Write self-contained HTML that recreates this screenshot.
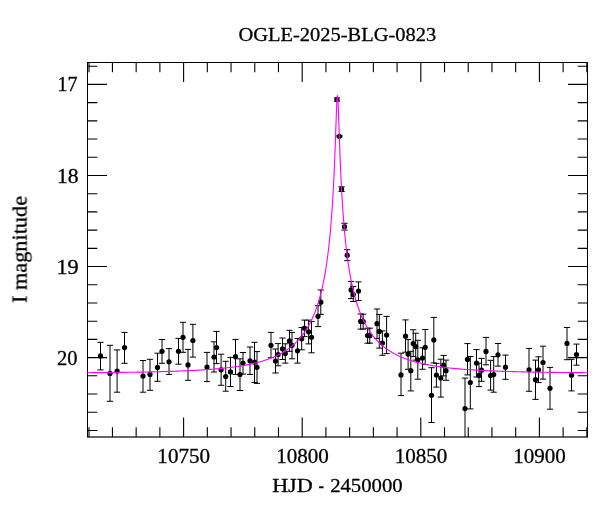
<!DOCTYPE html>
<html><head><meta charset="utf-8"><style>
html,body{margin:0;padding:0;background:#fff;}
svg{display:block;}
text{font-family:"Liberation Serif", serif;fill:#000;}
</style></head><body>
<svg width="600" height="512" viewBox="0 0 600 512">
<rect width="600" height="512" fill="#fff"/>
<g opacity="0.999" stroke="#000" stroke-width="0.3"><text x="238.50" y="40.50" font-size="19.76" textLength="197.67" lengthAdjust="spacingAndGlyphs">OGLE-2025-BLG-0823</text><text x="57.50" y="91.30" font-size="20.00" textLength="19.98" lengthAdjust="spacingAndGlyphs">17</text><text x="57.00" y="183.17" font-size="20.00" textLength="21.64" lengthAdjust="spacingAndGlyphs">18</text><text x="56.50" y="274.24" font-size="20.00" textLength="22.23" lengthAdjust="spacingAndGlyphs">19</text><text x="57.00" y="364.51" font-size="20.00" textLength="20.50" lengthAdjust="spacingAndGlyphs">20</text><text x="157.35" y="463.00" font-size="20.20" textLength="52.70" lengthAdjust="spacingAndGlyphs">10750</text><text x="276.15" y="463.00" font-size="20.20" textLength="52.70" lengthAdjust="spacingAndGlyphs">10800</text><text x="394.70" y="463.00" font-size="20.20" textLength="52.70" lengthAdjust="spacingAndGlyphs">10850</text><text x="513.20" y="463.00" font-size="20.20" textLength="52.70" lengthAdjust="spacingAndGlyphs">10900</text><text transform="translate(26.60,303.00) rotate(-90)" font-size="20.04" textLength="107.03" lengthAdjust="spacingAndGlyphs">I magnitude</text><text x="272.15" y="491.60" font-size="19.52" textLength="40.55" lengthAdjust="spacingAndGlyphs">HJD</text><text x="318.50" y="491.60" font-size="20.20" textLength="5.42" lengthAdjust="spacingAndGlyphs">-</text><text x="330.15" y="491.60" font-size="19.52" textLength="72.51" lengthAdjust="spacingAndGlyphs">2450000</text></g>
<defs><clipPath id="c"><rect x="87.5" y="62.5" width="500.0" height="374.5"/></clipPath><clipPath id="c2"><rect x="87.0" y="62.5" width="501.0" height="374.5"/></clipPath></defs>
<path d="M89.00 437.00V427.20M89.00 62.50V72.30M112.44 437.00V427.20M112.44 62.50V72.30M136.16 437.00V427.20M136.16 62.50V72.30M159.88 437.00V427.20M159.88 62.50V72.30M183.60 437.00V417.50M183.60 62.50V82.00M207.32 437.00V427.20M207.32 62.50V72.30M231.04 437.00V427.20M231.04 62.50V72.30M254.76 437.00V427.20M254.76 62.50V72.30M278.48 437.00V427.20M278.48 62.50V72.30M302.20 437.00V417.50M302.20 62.50V82.00M325.92 437.00V427.20M325.92 62.50V72.30M349.64 437.00V427.20M349.64 62.50V72.30M373.36 437.00V427.20M373.36 62.50V72.30M397.08 437.00V427.20M397.08 62.50V72.30M420.80 437.00V417.50M420.80 62.50V82.00M444.52 437.00V427.20M444.52 62.50V72.30M468.24 437.00V427.20M468.24 62.50V72.30M491.96 437.00V427.20M491.96 62.50V72.30M515.68 437.00V427.20M515.68 62.50V72.30M539.40 437.00V417.50M539.40 62.50V82.00M563.12 437.00V427.20M563.12 62.50V72.30M586.84 437.00V427.20M586.84 62.50V72.30M87.50 66.19H97.30M587.50 66.19H577.70M87.50 84.40H107.00M587.50 84.40H568.00M87.50 102.61H97.30M587.50 102.61H577.70M87.50 120.83H97.30M587.50 120.83H577.70M87.50 139.04H97.30M587.50 139.04H577.70M87.50 157.26H97.30M587.50 157.26H577.70M87.50 175.47H107.00M587.50 175.47H568.00M87.50 193.68H97.30M587.50 193.68H577.70M87.50 211.90H97.30M587.50 211.90H577.70M87.50 230.11H97.30M587.50 230.11H577.70M87.50 248.33H97.30M587.50 248.33H577.70M87.50 266.54H107.00M587.50 266.54H568.00M87.50 284.75H97.30M587.50 284.75H577.70M87.50 302.97H97.30M587.50 302.97H577.70M87.50 321.18H97.30M587.50 321.18H577.70M87.50 339.40H97.30M587.50 339.40H577.70M87.50 357.61H107.00M587.50 357.61H568.00M87.50 375.82H97.30M587.50 375.82H577.70M87.50 394.04H97.30M587.50 394.04H577.70M87.50 412.25H97.30M587.50 412.25H577.70M87.50 430.47H97.30M587.50 430.47H577.70" stroke="#000" stroke-width="1.1" fill="none"/>
<path d="M87.5 62.5H587.5M87.5 62.0V437.0M587.5 62.0V437.0" stroke="#000" stroke-width="1" fill="none"/>
<path d="M87.0 437.0H588.0" stroke="#000" stroke-width="1.5" stroke-opacity="0.8" fill="none"/>
<g clip-path="url(#c)">
<g stroke="#000" stroke-width="1.0" fill="none">
<path d="M100.50 342.30V369.90M97.40 342.30H103.60M97.40 369.90H103.60"/>
<path d="M110.00 345.30V401.30M106.90 345.30H113.10M106.90 401.30H113.10"/>
<path d="M117.10 349.90V392.20M114.00 349.90H120.20M114.00 392.20H120.20"/>
<path d="M124.50 332.40V363.30M121.40 332.40H127.60M121.40 363.30H127.60"/>
<path d="M143.00 360.50V392.20M139.90 360.50H146.10M139.90 392.20H146.10"/>
<path d="M150.00 359.30V390.30M146.90 359.30H153.10M146.90 390.30H153.10"/>
<path d="M157.50 353.20V381.30M154.40 353.20H160.60M154.40 381.30H160.60"/>
<path d="M162.00 339.50V363.30M158.90 339.50H165.10M158.90 363.30H165.10"/>
<path d="M169.00 348.60V374.40M165.90 348.60H172.10M165.90 374.40H172.10"/>
<path d="M178.50 338.40V364.20M175.40 338.40H181.60M175.40 364.20H181.60"/>
<path d="M183.00 322.30V352.30M179.90 322.30H186.10M179.90 352.30H186.10"/>
<path d="M188.00 349.40V380.30M184.90 349.40H191.10M184.90 380.30H191.10"/>
<path d="M192.90 324.30V357.10M189.80 324.30H196.00M189.80 357.10H196.00"/>
<path d="M207.00 352.40V381.60M203.90 352.40H210.10M203.90 381.60H210.10"/>
<path d="M214.00 341.80V372.00M210.90 341.80H217.10M210.90 372.00H217.10"/>
<path d="M216.50 331.40V363.60M213.40 331.40H219.60M213.40 363.60H219.60"/>
<path d="M221.10 354.20V385.30M218.00 354.20H224.20M218.00 385.30H224.20"/>
<path d="M225.70 361.30V391.20M222.60 361.30H228.80M222.60 391.20H228.80"/>
<path d="M230.50 357.40V386.50M227.40 357.40H233.60M227.40 386.50H233.60"/>
<path d="M235.50 339.40V374.40M232.40 339.40H238.60M232.40 374.40H238.60"/>
<path d="M240.00 358.80V390.50M236.90 358.80H243.10M236.90 390.50H243.10"/>
<path d="M243.00 352.50V374.10M239.90 352.50H246.10M239.90 374.10H246.10"/>
<path d="M250.00 347.00V374.40M246.90 347.00H253.10M246.90 374.40H253.10"/>
<path d="M254.50 342.30V382.50M251.40 342.30H257.60M251.40 382.50H257.60"/>
<path d="M257.00 351.60V383.40M253.90 351.60H260.10M253.90 383.40H260.10"/>
<path d="M271.00 332.40V357.70M267.90 332.40H274.10M267.90 357.70H274.10"/>
<path d="M275.50 349.00V373.00M272.40 349.00H278.60M272.40 373.00H278.60"/>
<path d="M278.10 343.60V365.80M275.00 343.60H281.20M275.00 365.80H281.20"/>
<path d="M282.50 338.00V359.50M279.40 338.00H285.60M279.40 359.50H285.60"/>
<path d="M285.30 343.80V363.10M282.20 343.80H288.40M282.20 363.10H288.40"/>
<path d="M289.50 330.30V351.30M286.40 330.30H292.60M286.40 351.30H292.60"/>
<path d="M292.00 332.40V358.80M288.90 332.40H295.10M288.90 358.80H295.10"/>
<path d="M297.50 338.40V363.10M294.40 338.40H300.60M294.40 363.10H300.60"/>
<path d="M301.70 327.50V349.80M298.60 327.50H304.80M298.60 349.80H304.80"/>
<path d="M304.50 320.10V336.60M301.40 320.10H307.60M301.40 336.60H307.60"/>
<path d="M308.60 320.10V343.90M305.50 320.10H311.70M305.50 343.90H311.70"/>
<path d="M311.50 321.50V352.80M308.40 321.50H314.60M308.40 352.80H314.60"/>
<path d="M318.00 305.70V326.60M314.90 305.70H321.10M314.90 326.60H321.10"/>
<path d="M320.80 290.00V314.40M317.70 290.00H323.90M317.70 314.40H323.90"/>
<path d="M337.00 97.90V101.20M333.90 97.90H340.10M333.90 101.20H340.10"/>
<path d="M339.40 135.60V137.00M336.30 135.60H342.50M336.30 137.00H342.50"/>
<path d="M341.60 186.80V191.50M338.50 186.80H344.70M338.50 191.50H344.70"/>
<path d="M344.50 223.30V230.10M341.40 223.30H347.60M341.40 230.10H347.60"/>
<path d="M347.20 249.70V260.70M344.10 249.70H350.30M344.10 260.70H350.30"/>
<path d="M351.10 281.40V298.60M348.00 281.40H354.20M348.00 298.60H354.20"/>
<path d="M353.30 286.50V301.50M350.20 286.50H356.40M350.20 301.50H356.40"/>
<path d="M358.50 281.90V300.50M355.40 281.90H361.60M355.40 300.50H361.60"/>
<path d="M360.70 314.00V329.10M357.60 314.00H363.80M357.60 329.10H363.80"/>
<path d="M363.20 314.20V329.10M360.10 314.20H366.30M360.10 329.10H366.30"/>
<path d="M367.60 328.20V343.20M364.50 328.20H370.70M364.50 343.20H370.70"/>
<path d="M369.80 328.20V343.20M366.70 328.20H372.90M366.70 343.20H372.90"/>
<path d="M377.00 309.00V338.50M373.90 309.00H380.10M373.90 338.50H380.10"/>
<path d="M379.30 314.40V348.10M376.20 314.40H382.40M376.20 348.10H382.40"/>
<path d="M382.40 330.90V355.30M379.30 330.90H385.50M379.30 355.30H385.50"/>
<path d="M386.60 316.40V353.60M383.50 316.40H389.70M383.50 353.60H389.70"/>
<path d="M401.00 353.20V395.60M397.90 353.20H404.10M397.90 395.60H404.10"/>
<path d="M405.50 319.90V352.20M402.40 319.90H408.60M402.40 352.20H408.60"/>
<path d="M408.10 339.40V369.30M405.00 339.40H411.20M405.00 369.30H411.20"/>
<path d="M410.80 351.30V390.90M407.70 351.30H413.90M407.70 390.90H413.90"/>
<path d="M413.20 329.80V356.60M410.10 329.80H416.30M410.10 356.60H416.30"/>
<path d="M415.70 333.20V360.10M412.60 333.20H418.80M412.60 360.10H418.80"/>
<path d="M417.80 340.30V379.20M414.70 340.30H420.90M414.70 379.20H420.90"/>
<path d="M422.50 347.80V369.30M419.40 347.80H425.60M419.40 369.30H425.60"/>
<path d="M425.20 329.50V364.50M422.10 329.50H428.30M422.10 364.50H428.30"/>
<path d="M431.50 367.70V422.50M428.40 367.70H434.60M428.40 422.50H434.60"/>
<path d="M433.80 317.40V362.90M430.70 317.40H436.90M430.70 362.90H436.90"/>
<path d="M436.40 363.40V387.10M433.30 363.40H439.50M433.30 387.10H439.50"/>
<path d="M440.80 359.20V397.10M437.70 359.20H443.90M437.70 397.10H443.90"/>
<path d="M443.60 355.40V375.90M440.50 355.40H446.70M440.50 375.90H446.70"/>
<path d="M446.00 360.10V380.30M442.90 360.10H449.10M442.90 380.30H449.10"/>
<path d="M465.00 378.10V445.00M461.90 378.10H468.10M461.90 445.00H468.10"/>
<path d="M467.50 343.60V374.90M464.40 343.60H470.60M464.40 374.90H470.60"/>
<path d="M470.30 356.50V408.90M467.20 356.50H473.40M467.20 408.90H473.40"/>
<path d="M476.50 349.60V377.00M473.40 349.60H479.60M473.40 377.00H479.60"/>
<path d="M479.00 363.20V386.60M475.90 363.20H482.10M475.90 386.60H482.10"/>
<path d="M481.50 358.40V381.30M478.40 358.40H484.60M478.40 381.30H484.60"/>
<path d="M486.00 337.40V364.80M482.90 337.40H489.10M482.90 364.80H489.10"/>
<path d="M490.60 360.30V390.10M487.50 360.30H493.70M487.50 390.10H493.70"/>
<path d="M493.70 356.60V392.20M490.60 356.60H496.80M490.60 392.20H496.80"/>
<path d="M498.00 343.50V366.10M494.90 343.50H501.10M494.90 366.10H501.10"/>
<path d="M505.50 355.10V379.30M502.40 355.10H508.60M502.40 379.30H508.60"/>
<path d="M529.00 348.40V391.30M525.90 348.40H532.10M525.90 391.30H532.10"/>
<path d="M535.50 360.10V399.40M532.40 360.10H538.60M532.40 399.40H538.60"/>
<path d="M538.50 356.80V382.60M535.40 356.80H541.60M535.40 382.60H541.60"/>
<path d="M543.00 346.20V379.10M539.90 346.20H546.10M539.90 379.10H546.10"/>
<path d="M550.00 367.40V409.20M546.90 367.40H553.10M546.90 409.20H553.10"/>
<path d="M567.00 327.50V359.70M563.90 327.50H570.10M563.90 359.70H570.10"/>
<path d="M571.50 359.30V390.90M568.40 359.30H574.60M568.40 390.90H574.60"/>
<path d="M576.50 344.10V365.20M573.40 344.10H579.60M573.40 365.20H579.60"/>
</g>
<g fill="#000">
<circle cx="100.50" cy="355.90" r="2.6"/>
<circle cx="110.00" cy="373.40" r="2.6"/>
<circle cx="117.10" cy="371.00" r="2.6"/>
<circle cx="124.50" cy="347.60" r="2.6"/>
<circle cx="143.00" cy="376.10" r="2.6"/>
<circle cx="150.00" cy="374.40" r="2.6"/>
<circle cx="157.50" cy="367.40" r="2.6"/>
<circle cx="162.00" cy="351.30" r="2.6"/>
<circle cx="169.00" cy="361.80" r="2.6"/>
<circle cx="178.50" cy="351.30" r="2.6"/>
<circle cx="183.00" cy="337.30" r="2.6"/>
<circle cx="188.00" cy="364.90" r="2.6"/>
<circle cx="192.90" cy="340.50" r="2.6"/>
<circle cx="207.00" cy="367.00" r="2.6"/>
<circle cx="214.00" cy="357.00" r="2.6"/>
<circle cx="216.50" cy="347.50" r="2.6"/>
<circle cx="221.10" cy="369.80" r="2.6"/>
<circle cx="225.70" cy="376.60" r="2.6"/>
<circle cx="230.50" cy="371.90" r="2.6"/>
<circle cx="235.50" cy="356.70" r="2.6"/>
<circle cx="240.00" cy="374.50" r="2.6"/>
<circle cx="243.00" cy="363.10" r="2.6"/>
<circle cx="250.00" cy="360.80" r="2.6"/>
<circle cx="254.50" cy="362.20" r="2.6"/>
<circle cx="257.00" cy="367.30" r="2.6"/>
<circle cx="271.00" cy="345.30" r="2.6"/>
<circle cx="275.50" cy="361.00" r="2.6"/>
<circle cx="278.10" cy="354.50" r="2.6"/>
<circle cx="282.50" cy="348.80" r="2.6"/>
<circle cx="285.30" cy="353.60" r="2.6"/>
<circle cx="289.50" cy="340.90" r="2.6"/>
<circle cx="292.00" cy="345.30" r="2.6"/>
<circle cx="297.50" cy="350.80" r="2.6"/>
<circle cx="301.70" cy="338.70" r="2.6"/>
<circle cx="304.50" cy="328.20" r="2.6"/>
<circle cx="308.60" cy="331.80" r="2.6"/>
<circle cx="311.50" cy="337.30" r="2.6"/>
<circle cx="318.00" cy="316.30" r="2.6"/>
<circle cx="320.80" cy="302.20" r="2.6"/>
<circle cx="337.00" cy="99.50" r="2.6"/>
<circle cx="339.40" cy="136.30" r="2.6"/>
<circle cx="341.60" cy="189.10" r="2.6"/>
<circle cx="344.50" cy="226.70" r="2.6"/>
<circle cx="347.20" cy="255.20" r="2.6"/>
<circle cx="351.10" cy="289.90" r="2.6"/>
<circle cx="353.30" cy="294.50" r="2.6"/>
<circle cx="358.50" cy="291.10" r="2.6"/>
<circle cx="360.70" cy="321.40" r="2.6"/>
<circle cx="363.20" cy="321.60" r="2.6"/>
<circle cx="367.60" cy="335.50" r="2.6"/>
<circle cx="369.80" cy="335.70" r="2.6"/>
<circle cx="377.00" cy="323.70" r="2.6"/>
<circle cx="379.30" cy="331.40" r="2.6"/>
<circle cx="382.40" cy="343.00" r="2.6"/>
<circle cx="386.60" cy="335.10" r="2.6"/>
<circle cx="401.00" cy="374.90" r="2.6"/>
<circle cx="405.50" cy="336.20" r="2.6"/>
<circle cx="408.10" cy="354.10" r="2.6"/>
<circle cx="410.80" cy="370.70" r="2.6"/>
<circle cx="413.20" cy="343.60" r="2.6"/>
<circle cx="415.70" cy="346.60" r="2.6"/>
<circle cx="417.80" cy="359.80" r="2.6"/>
<circle cx="422.50" cy="358.00" r="2.6"/>
<circle cx="425.20" cy="347.30" r="2.6"/>
<circle cx="431.50" cy="395.30" r="2.6"/>
<circle cx="433.80" cy="339.90" r="2.6"/>
<circle cx="436.40" cy="375.10" r="2.6"/>
<circle cx="440.80" cy="378.00" r="2.6"/>
<circle cx="443.60" cy="365.20" r="2.6"/>
<circle cx="446.00" cy="370.70" r="2.6"/>
<circle cx="465.00" cy="408.60" r="2.6"/>
<circle cx="467.50" cy="359.40" r="2.6"/>
<circle cx="470.30" cy="382.50" r="2.6"/>
<circle cx="476.50" cy="363.10" r="2.6"/>
<circle cx="479.00" cy="375.40" r="2.6"/>
<circle cx="481.50" cy="370.20" r="2.6"/>
<circle cx="486.00" cy="351.40" r="2.6"/>
<circle cx="490.60" cy="375.50" r="2.6"/>
<circle cx="493.70" cy="374.60" r="2.6"/>
<circle cx="498.00" cy="354.80" r="2.6"/>
<circle cx="505.50" cy="367.20" r="2.6"/>
<circle cx="529.00" cy="369.80" r="2.6"/>
<circle cx="535.50" cy="379.70" r="2.6"/>
<circle cx="538.50" cy="369.80" r="2.6"/>
<circle cx="543.00" cy="362.50" r="2.6"/>
<circle cx="550.00" cy="388.30" r="2.6"/>
<circle cx="567.00" cy="343.40" r="2.6"/>
<circle cx="571.50" cy="375.20" r="2.6"/>
<circle cx="576.50" cy="354.50" r="2.6"/>
</g>
</g>
<polyline clip-path="url(#c2)" points="85.16,372.72 87.09,372.71 89.01,372.69 90.93,372.68 92.86,372.66 94.78,372.65 96.70,372.63 98.63,372.62 100.55,372.60 102.47,372.58 104.40,372.57 106.32,372.55 108.24,372.53 110.17,372.51 112.09,372.49 114.01,372.47 115.94,372.45 117.86,372.43 119.79,372.40 121.71,372.38 123.63,372.35 125.56,372.33 127.48,372.30 129.40,372.27 131.33,372.25 133.25,372.22 135.17,372.19 137.10,372.16 139.02,372.12 140.94,372.09 142.87,372.05 144.79,372.02 146.71,371.98 148.64,371.94 150.56,371.90 152.48,371.86 154.41,371.82 156.33,371.77 158.26,371.72 160.18,371.67 162.10,371.62 164.03,371.57 165.95,371.52 167.87,371.46 169.80,371.40 171.72,371.34 173.64,371.27 175.57,371.21 177.49,371.14 179.41,371.07 181.34,370.99 183.26,370.91 185.18,370.83 187.11,370.74 189.03,370.66 190.96,370.56 192.88,370.47 194.80,370.37 196.73,370.26 198.65,370.15 200.57,370.04 202.50,369.92 204.42,369.79 206.34,369.66 208.27,369.52 210.19,369.38 212.11,369.23 214.04,369.07 215.96,368.91 217.88,368.74 219.81,368.56 221.73,368.37 223.65,368.17 225.58,367.97 227.50,367.75 229.43,367.52 231.35,367.28 233.27,367.03 235.20,366.76 237.12,366.49 239.04,366.19 240.97,365.89 242.89,365.56 244.81,365.22 246.74,364.86 248.66,364.49 250.58,364.09 252.51,363.66 254.43,363.22 256.35,362.75 258.28,362.25 260.20,361.73 262.13,361.17 264.05,360.58 265.97,359.95 267.90,359.29 269.82,358.58 271.74,357.83 273.67,357.03 275.59,356.18 277.51,355.28 279.44,354.31 281.36,353.27 283.28,352.17 285.21,350.98 287.13,349.70 289.05,348.33 290.98,346.86 292.90,345.27 294.82,343.55 296.75,341.69 298.67,339.66 300.60,337.46 302.52,335.05 304.44,332.42 306.37,329.52 308.29,326.32 310.21,322.78 312.14,318.83 314.06,314.40 314.14,314.21 314.22,314.01 314.30,313.82 314.38,313.62 314.46,313.42 314.54,313.22 314.61,313.02 314.69,312.82 314.77,312.62 314.85,312.42 314.93,312.21 315.01,312.01 315.09,311.80 315.17,311.60 315.25,311.39 315.33,311.18 315.41,310.97 315.49,310.76 315.56,310.55 315.64,310.33 315.72,310.12 315.80,309.90 315.88,309.69 315.96,309.47 316.04,309.25 316.12,309.03 316.20,308.81 316.28,308.58 316.36,308.36 316.44,308.14 316.52,307.91 316.59,307.68 316.67,307.45 316.75,307.22 316.83,306.99 316.91,306.76 316.99,306.53 317.07,306.29 317.15,306.05 317.23,305.82 317.31,305.58 317.39,305.34 317.47,305.10 317.54,304.85 317.62,304.61 317.70,304.36 317.78,304.12 317.86,303.87 317.94,303.62 318.02,303.37 318.10,303.11 318.18,302.86 318.26,302.60 318.34,302.35 318.42,302.09 318.50,301.83 318.57,301.57 318.65,301.30 318.73,301.04 318.81,300.77 318.89,300.51 318.97,300.24 319.05,299.97 319.13,299.69 319.21,299.42 319.29,299.14 319.37,298.87 319.45,298.59 319.52,298.31 319.60,298.02 319.68,297.74 319.76,297.45 319.84,297.17 319.92,296.88 320.00,296.59 320.08,296.29 320.16,296.00 320.24,295.70 320.32,295.40 320.40,295.10 320.48,294.80 320.55,294.50 320.63,294.19 320.71,293.88 320.79,293.57 320.87,293.26 320.95,292.95 321.03,292.63 321.11,292.31 321.19,291.99 321.27,291.67 321.35,291.34 321.43,291.02 321.50,290.69 321.58,290.36 321.66,290.03 321.74,289.69 321.82,289.35 321.90,289.01 321.98,288.67 322.06,288.33 322.14,287.98 322.22,287.63 322.30,287.28 322.38,286.93 322.46,286.57 322.53,286.21 322.61,285.85 322.69,285.49 322.77,285.12 322.85,284.75 322.93,284.38 323.01,284.01 323.09,283.63 323.17,283.25 323.25,282.87 323.33,282.48 323.41,282.10 323.48,281.70 323.56,281.31 323.64,280.91 323.72,280.52 323.80,280.11 323.88,279.71 323.96,279.30 324.04,278.89 324.12,278.47 324.20,278.06 324.28,277.64 324.36,277.21 324.44,276.79 324.51,276.36 324.59,275.92 324.67,275.48 324.75,275.04 324.83,274.60 324.91,274.15 324.99,273.70 325.07,273.25 325.15,272.79 325.23,272.33 325.31,271.86 325.39,271.39 325.46,270.92 325.54,270.44 325.62,269.96 325.70,269.48 325.78,268.99 325.86,268.49 325.94,268.00 326.02,267.49 326.10,266.99 326.18,266.48 326.26,265.96 326.34,265.44 326.41,264.92 326.49,264.39 326.57,263.86 326.65,263.32 326.73,262.78 326.81,262.23 326.89,261.68 326.97,261.12 327.05,260.56 327.13,259.99 327.21,259.42 327.29,258.85 327.37,258.26 327.44,257.67 327.52,257.08 327.60,256.48 327.68,255.87 327.76,255.26 327.84,254.65 327.92,254.02 328.00,253.39 328.08,252.76 328.16,252.12 328.24,251.47 328.32,250.82 328.39,250.15 328.47,249.49 328.55,248.81 328.63,248.13 328.71,247.44 328.79,246.75 328.87,246.05 328.95,245.33 329.03,244.62 329.11,243.89 329.19,243.16 329.27,242.42 329.35,241.67 329.42,240.91 329.50,240.15 329.58,239.37 329.66,238.59 329.74,237.80 329.82,237.00 329.90,236.19 329.98,235.37 330.06,234.54 330.14,233.70 330.22,232.85 330.30,231.99 330.37,231.12 330.45,230.24 330.53,229.35 330.61,228.45 330.69,227.54 330.77,226.62 330.85,225.68 330.93,224.73 331.01,223.78 331.09,222.80 331.17,221.82 331.25,220.82 331.33,219.81 331.40,218.79 331.48,217.75 331.56,216.70 331.64,215.64 331.72,214.56 331.80,213.46 331.88,212.35 331.96,211.23 332.04,210.09 332.12,208.93 332.20,207.75 332.28,206.56 332.35,205.35 332.43,204.12 332.51,202.88 332.59,201.62 332.67,200.33 332.75,199.03 332.83,197.71 332.91,196.36 332.99,195.00 333.07,193.61 333.15,192.21 333.23,190.77 333.31,189.32 333.38,187.84 333.46,186.34 333.54,184.82 333.62,183.27 333.70,181.69 333.78,180.09 333.86,178.46 333.94,176.80 334.02,175.12 334.10,173.41 334.18,171.66 334.26,169.89 334.33,168.09 334.41,166.26 334.49,164.40 334.57,162.51 334.65,160.58 334.73,158.63 334.81,156.64 334.89,154.62 334.97,152.57 335.05,150.49 335.13,148.38 335.21,146.24 335.29,144.08 335.36,141.88 335.44,139.66 335.52,137.42 335.60,135.16 335.68,132.88 335.76,130.58 335.84,128.28 335.92,125.98 336.00,123.67 336.08,121.38 336.16,119.10 336.24,116.85 336.31,114.64 336.39,112.48 336.47,110.38 336.55,108.36 336.63,106.43 336.71,104.60 336.79,102.90 336.87,101.34 336.95,99.94 337.03,98.71 337.11,97.68 337.19,96.84 337.27,96.22 337.34,95.83 337.42,95.66 337.50,95.73 337.58,96.03 337.66,96.55 337.74,97.30 337.82,98.25 337.90,99.40 337.98,100.73 338.06,102.22 338.14,103.87 338.22,105.64 338.29,107.53 338.37,109.52 338.45,111.58 338.53,113.72 338.61,115.91 338.69,118.15 338.77,120.41 338.85,122.70 338.93,125.00 339.01,127.30 339.09,129.61 339.17,131.91 339.25,134.19 339.32,136.46 339.40,138.72 339.48,140.95 339.56,143.15 339.64,145.33 339.72,147.48 339.80,149.60 339.88,151.70 339.96,153.76 340.04,155.79 340.12,157.79 340.20,159.76 340.27,161.69 340.35,163.60 340.43,165.48 340.51,167.32 340.59,169.13 340.67,170.92 340.75,172.67 340.83,174.40 340.91,176.09 340.99,177.76 341.07,179.40 341.15,181.02 341.23,182.60 341.30,184.16 341.38,185.70 341.46,187.21 341.54,188.70 341.62,190.16 341.70,191.60 341.78,193.02 341.86,194.41 341.94,195.79 342.02,197.14 342.10,198.47 342.18,199.78 342.25,201.07 342.33,202.35 342.41,203.60 342.49,204.83 342.57,206.05 342.65,207.25 342.73,208.43 342.81,209.60 342.89,210.75 342.97,211.88 343.05,212.99 343.13,214.10 343.21,215.18 343.28,216.25 343.36,217.31 343.44,218.35 343.52,219.38 343.60,220.40 343.68,221.40 343.76,222.39 343.84,223.37 343.92,224.33 344.00,225.28 344.08,226.22 344.16,227.15 344.23,228.07 344.31,228.97 344.39,229.87 344.47,230.75 344.55,231.62 344.63,232.49 344.71,233.34 344.79,234.18 344.87,235.02 344.95,235.84 345.03,236.65 345.11,237.46 345.19,238.25 345.26,239.04 345.34,239.82 345.42,240.59 345.50,241.35 345.58,242.10 345.66,242.85 345.74,243.58 345.82,244.31 345.90,245.03 345.98,245.75 346.06,246.45 346.14,247.15 346.21,247.84 346.29,248.53 346.37,249.20 346.45,249.87 346.53,250.54 346.61,251.19 346.69,251.84 346.77,252.49 346.85,253.13 346.93,253.76 347.01,254.38 347.09,255.00 347.17,255.62 347.24,256.22 347.32,256.83 347.40,257.42 347.48,258.01 347.56,258.60 347.64,259.18 347.72,259.75 347.80,260.32 347.88,260.89 347.96,261.45 348.04,262.00 348.12,262.55 348.19,263.09 348.27,263.63 348.35,264.17 348.43,264.70 348.51,265.22 348.59,265.74 348.67,266.26 348.75,266.77 348.83,267.28 348.91,267.78 348.99,268.28 349.07,268.78 349.15,269.27 349.22,269.76 349.30,270.24 349.38,270.72 349.46,271.19 349.54,271.66 349.62,272.13 349.70,272.59 349.78,273.05 349.86,273.51 349.94,273.96 350.02,274.41 350.10,274.86 350.17,275.30 350.25,275.74 350.33,276.17 350.41,276.60 350.49,277.03 350.57,277.46 350.65,277.88 350.73,278.30 350.81,278.71 350.89,279.13 350.97,279.54 351.05,279.94 351.12,280.35 351.20,280.75 351.28,281.14 351.36,281.54 351.44,281.93 351.52,282.32 351.60,282.70 351.68,283.09 351.76,283.47 351.84,283.85 351.92,284.22 352.00,284.59 352.08,284.96 352.15,285.33 352.23,285.70 352.31,286.06 352.39,286.42 352.47,286.78 352.55,287.13 352.63,287.48 352.71,287.83 352.79,288.18 352.87,288.53 352.95,288.87 353.03,289.21 353.10,289.55 353.18,289.88 353.26,290.22 353.34,290.55 353.42,290.88 353.50,291.21 353.58,291.53 353.66,291.85 353.74,292.18 353.82,292.49 353.90,292.81 353.98,293.13 354.06,293.44 354.13,293.75 354.21,294.06 354.29,294.37 354.37,294.67 354.45,294.97 354.53,295.28 354.61,295.57 354.69,295.87 354.77,296.17 354.85,296.46 354.93,296.75 355.01,297.04 355.08,297.33 355.16,297.62 355.24,297.90 355.32,298.19 355.40,298.47 355.48,298.75 355.56,299.03 355.64,299.30 355.72,299.58 355.80,299.85 355.88,300.12 355.96,300.39 356.04,300.66 356.11,300.93 356.19,301.19 356.27,301.46 356.35,301.72 356.43,301.98 356.51,302.24 356.59,302.50 356.67,302.75 356.75,303.01 356.83,303.26 356.91,303.51 356.99,303.76 357.06,304.01 357.14,304.26 357.22,304.51 357.30,304.75 357.38,304.99 357.46,305.24 357.54,305.48 357.62,305.72 357.70,305.95 357.78,306.19 357.86,306.43 357.94,306.66 358.02,306.89 358.09,307.13 358.17,307.36 358.25,307.59 358.33,307.81 358.41,308.04 358.49,308.27 358.57,308.49 358.65,308.71 358.73,308.93 358.81,309.16 358.89,309.38 358.97,309.59 359.04,309.81 359.12,310.03 359.20,310.24 359.28,310.46 359.36,310.67 359.44,310.88 359.52,311.09 359.60,311.30 359.68,311.51 359.76,311.72 359.84,311.92 359.92,312.13 360.00,312.33 360.07,312.54 360.15,312.74 360.23,312.94 360.31,313.14 360.39,313.34 360.47,313.54 360.55,313.73 360.63,313.93 360.71,314.12 360.79,314.32 360.87,314.51 360.95,314.70 361.02,314.90 361.10,315.09 361.18,315.27 361.26,315.46 361.34,315.65 361.42,315.84 361.50,316.02 363.41,320.25 365.33,324.04 367.24,327.44 369.15,330.52 371.07,333.31 372.98,335.85 374.89,338.18 376.81,340.31 378.72,342.27 380.64,344.08 382.55,345.75 384.46,347.30 386.38,348.74 388.29,350.07 390.20,351.31 392.12,352.47 394.03,353.55 395.94,354.57 397.86,355.51 399.77,356.40 401.68,357.23 403.60,358.02 405.51,358.75 407.43,359.44 409.34,360.10 411.25,360.71 413.17,361.29 415.08,361.84 416.99,362.35 418.91,362.84 420.82,363.31 422.73,363.75 424.65,364.16 426.56,364.55 428.47,364.93 430.39,365.28 432.30,365.62 434.21,365.94 436.13,366.24 438.04,366.53 439.96,366.80 441.87,367.06 443.78,367.31 445.70,367.55 447.61,367.77 449.52,367.99 451.44,368.19 453.35,368.39 455.26,368.58 457.18,368.75 459.09,368.92 461.00,369.09 462.92,369.24 464.83,369.39 466.75,369.53 468.66,369.67 470.57,369.80 472.49,369.92 474.40,370.04 476.31,370.16 478.23,370.26 480.14,370.37 482.05,370.47 483.97,370.56 485.88,370.66 487.79,370.75 489.71,370.83 491.62,370.91 493.53,370.99 495.45,371.06 497.36,371.14 499.28,371.21 501.19,371.27 503.10,371.34 505.02,371.40 506.93,371.46 508.84,371.51 510.76,371.57 512.67,371.62 514.58,371.67 516.50,371.72 518.41,371.77 520.32,371.81 522.24,371.86 524.15,371.90 526.06,371.94 527.98,371.98 529.89,372.01 531.81,372.05 533.72,372.09 535.63,372.12 537.55,372.15 539.46,372.18 541.37,372.21 543.29,372.24 545.20,372.27 547.11,372.30 549.03,372.32 550.94,372.35 552.85,372.37 554.77,372.40 556.68,372.42 558.60,372.44 560.51,372.46 562.42,372.49 564.34,372.51 566.25,372.53 568.16,372.54 570.08,372.56 571.99,372.58 573.90,372.60 575.82,372.61 577.73,372.63 579.64,372.65 581.56,372.66 583.47,372.67 585.38,372.69 587.30,372.70 589.21,372.72" fill="none" stroke="#ff00ff" stroke-width="1.1"/>
</svg>
</body></html>
